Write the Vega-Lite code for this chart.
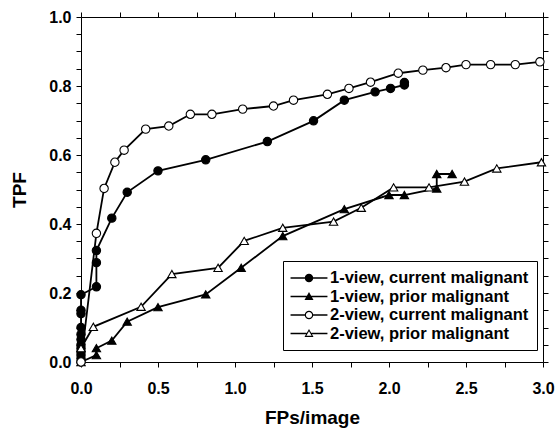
{
  "$schema": "https://vega.github.io/schema/vega-lite/v6.json",
  "autosize": {"type": "none"},
  "padding": {"left": 81, "top": 17, "right": 15, "bottom": 69},
  "width": 462,
  "height": 345,
  "background": "white",
  "config": {
    "view": {"stroke": null},
    "font": "Liberation Sans",
    "axis": {
      "domainColor": "black",
      "domainWidth": 1,
      "tickColor": "black",
      "tickWidth": 1,
      "tickSize": 5,
      "grid": false,
      "labelColor": "black",
      "labelFont": "Liberation Sans",
      "labelFontWeight": "bold",
      "labelFontSize": 16,
      "labelFlush": false,
      "labelOverlap": false,
      "titleColor": "black",
      "titleFont": "Liberation Sans",
      "titleFontWeight": "bold",
      "titleFontSize": 19
    }
  },
  "data": {
    "values": [
      {"series": "1-view, current malignant", "i": 0, "x": 0.0, "y": 0.0},
      {"series": "1-view, current malignant", "i": 1, "x": 0.0, "y": 0.01},
      {"series": "1-view, current malignant", "i": 2, "x": 0.0, "y": 0.02},
      {"series": "1-view, current malignant", "i": 3, "x": 0.0, "y": 0.03},
      {"series": "1-view, current malignant", "i": 4, "x": 0.0, "y": 0.04},
      {"series": "1-view, current malignant", "i": 5, "x": 0.0, "y": 0.05},
      {"series": "1-view, current malignant", "i": 6, "x": 0.0, "y": 0.065},
      {"series": "1-view, current malignant", "i": 7, "x": 0.0, "y": 0.08},
      {"series": "1-view, current malignant", "i": 8, "x": 0.0, "y": 0.1},
      {"series": "1-view, current malignant", "i": 9, "x": 0.0, "y": 0.14},
      {"series": "1-view, current malignant", "i": 10, "x": 0.0, "y": 0.15},
      {"series": "1-view, current malignant", "i": 11, "x": 0.0, "y": 0.195},
      {"series": "1-view, current malignant", "i": 12, "x": 0.1, "y": 0.218},
      {"series": "1-view, current malignant", "i": 13, "x": 0.1, "y": 0.288},
      {"series": "1-view, current malignant", "i": 14, "x": 0.1, "y": 0.323},
      {"series": "1-view, current malignant", "i": 15, "x": 0.2, "y": 0.417},
      {"series": "1-view, current malignant", "i": 16, "x": 0.3, "y": 0.492},
      {"series": "1-view, current malignant", "i": 17, "x": 0.5, "y": 0.554},
      {"series": "1-view, current malignant", "i": 18, "x": 0.81, "y": 0.586},
      {"series": "1-view, current malignant", "i": 19, "x": 1.21, "y": 0.639},
      {"series": "1-view, current malignant", "i": 20, "x": 1.51, "y": 0.699},
      {"series": "1-view, current malignant", "i": 21, "x": 1.71, "y": 0.759},
      {"series": "1-view, current malignant", "i": 22, "x": 1.91, "y": 0.783},
      {"series": "1-view, current malignant", "i": 23, "x": 2.01, "y": 0.793},
      {"series": "1-view, current malignant", "i": 24, "x": 2.1, "y": 0.803},
      {"series": "1-view, current malignant", "i": 25, "x": 2.1, "y": 0.81},

      {"series": "1-view, prior malignant", "i": 0, "x": 0.0, "y": 0.0},
      {"series": "1-view, prior malignant", "i": 1, "x": 0.1, "y": 0.02},
      {"series": "1-view, prior malignant", "i": 2, "x": 0.1, "y": 0.04},
      {"series": "1-view, prior malignant", "i": 3, "x": 0.2, "y": 0.062},
      {"series": "1-view, prior malignant", "i": 4, "x": 0.3, "y": 0.117},
      {"series": "1-view, prior malignant", "i": 5, "x": 0.5, "y": 0.159},
      {"series": "1-view, prior malignant", "i": 6, "x": 0.81, "y": 0.196},
      {"series": "1-view, prior malignant", "i": 7, "x": 1.04, "y": 0.273},
      {"series": "1-view, prior malignant", "i": 8, "x": 1.31, "y": 0.365},
      {"series": "1-view, prior malignant", "i": 9, "x": 1.71, "y": 0.443},
      {"series": "1-view, prior malignant", "i": 10, "x": 2.0, "y": 0.484},
      {"series": "1-view, prior malignant", "i": 11, "x": 2.1, "y": 0.484},
      {"series": "1-view, prior malignant", "i": 12, "x": 2.31, "y": 0.503},
      {"series": "1-view, prior malignant", "i": 13, "x": 2.31, "y": 0.545},
      {"series": "1-view, prior malignant", "i": 14, "x": 2.41, "y": 0.545},

      {"series": "2-view, current malignant", "i": 0, "x": 0.0, "y": 0.0},
      {"series": "2-view, current malignant", "i": 1, "x": 0.1, "y": 0.373},
      {"series": "2-view, current malignant", "i": 2, "x": 0.15, "y": 0.503},
      {"series": "2-view, current malignant", "i": 3, "x": 0.22, "y": 0.579},
      {"series": "2-view, current malignant", "i": 4, "x": 0.28, "y": 0.614},
      {"series": "2-view, current malignant", "i": 5, "x": 0.42, "y": 0.675},
      {"series": "2-view, current malignant", "i": 6, "x": 0.57, "y": 0.684},
      {"series": "2-view, current malignant", "i": 7, "x": 0.71, "y": 0.718},
      {"series": "2-view, current malignant", "i": 8, "x": 0.85, "y": 0.718},
      {"series": "2-view, current malignant", "i": 9, "x": 1.05, "y": 0.733},
      {"series": "2-view, current malignant", "i": 10, "x": 1.25, "y": 0.742},
      {"series": "2-view, current malignant", "i": 11, "x": 1.38, "y": 0.759},
      {"series": "2-view, current malignant", "i": 12, "x": 1.6, "y": 0.776},
      {"series": "2-view, current malignant", "i": 13, "x": 1.74, "y": 0.793},
      {"series": "2-view, current malignant", "i": 14, "x": 1.88, "y": 0.811},
      {"series": "2-view, current malignant", "i": 15, "x": 2.06, "y": 0.837},
      {"series": "2-view, current malignant", "i": 16, "x": 2.22, "y": 0.846},
      {"series": "2-view, current malignant", "i": 17, "x": 2.37, "y": 0.853},
      {"series": "2-view, current malignant", "i": 18, "x": 2.5, "y": 0.862},
      {"series": "2-view, current malignant", "i": 19, "x": 2.66, "y": 0.862},
      {"series": "2-view, current malignant", "i": 20, "x": 2.82, "y": 0.862},
      {"series": "2-view, current malignant", "i": 21, "x": 2.98, "y": 0.87},

      {"series": "2-view, prior malignant", "i": 0, "x": 0.0, "y": 0.04},
      {"series": "2-view, prior malignant", "i": 1, "x": 0.08, "y": 0.102},
      {"series": "2-view, prior malignant", "i": 2, "x": 0.39, "y": 0.16},
      {"series": "2-view, prior malignant", "i": 3, "x": 0.59, "y": 0.255},
      {"series": "2-view, prior malignant", "i": 4, "x": 0.89, "y": 0.273},
      {"series": "2-view, prior malignant", "i": 5, "x": 1.06, "y": 0.351},
      {"series": "2-view, prior malignant", "i": 6, "x": 1.31, "y": 0.389},
      {"series": "2-view, prior malignant", "i": 7, "x": 1.64, "y": 0.407},
      {"series": "2-view, prior malignant", "i": 8, "x": 1.82, "y": 0.447},
      {"series": "2-view, prior malignant", "i": 9, "x": 2.03, "y": 0.506},
      {"series": "2-view, prior malignant", "i": 10, "x": 2.26, "y": 0.506},
      {"series": "2-view, prior malignant", "i": 11, "x": 2.49, "y": 0.523},
      {"series": "2-view, prior malignant", "i": 12, "x": 2.7, "y": 0.561},
      {"series": "2-view, prior malignant", "i": 13, "x": 2.99, "y": 0.579}
    ]
  },
  "layer": [
    {
      "mark": {"type": "line", "color": "black", "strokeWidth": 1.8},
      "encoding": {
        "x": {
          "field": "x", "type": "quantitative",
          "scale": {"domain": [0, 3], "nice": false, "zero": false},
          "axis": {
            "orient": "bottom",
            "title": "FPs/image",
            "values": [0, 0.25, 0.5, 0.75, 1, 1.25, 1.5, 1.75, 2, 2.25, 2.5, 2.75, 3],
            "labelExpr": "datum.value % 0.5 == 0 ? format(datum.value, '.1f') : ''",
            "labelPadding": 13,
            "titlePadding": 12
          }
        },
        "y": {
          "field": "y", "type": "quantitative",
          "scale": {"domain": [0, 1], "nice": false},
          "axis": {
            "orient": "left",
            "title": "TPF",
            "values": [0, 0.05, 0.1, 0.15, 0.2, 0.25, 0.3, 0.35, 0.4, 0.45, 0.5, 0.55, 0.6, 0.65, 0.7, 0.75, 0.8, 0.85, 0.9, 0.95, 1],
            "labelExpr": "abs(datum.value * 5 - round(datum.value * 5)) < 0.001 ? format(datum.value, '.1f') : ''",
            "labelPadding": 5,
            "titlePadding": 19
          }
        },
        "detail": {"field": "series", "type": "nominal"},
        "order": {"field": "i", "type": "quantitative"}
      }
    },
    {
      "mark": {"type": "point", "stroke": "black", "strokeWidth": 1.1, "size": 70, "opacity": 1},
      "encoding": {
        "x": {
          "field": "x", "type": "quantitative",
          "axis": {
            "orient": "top", "title": null, "labels": false,
            "values": [0, 0.25, 0.5, 0.75, 1, 1.25, 1.5, 1.75, 2, 2.25, 2.5, 2.75, 3]
          }
        },
        "y": {
          "field": "y", "type": "quantitative",
          "axis": {
            "orient": "right", "title": null, "labels": false,
            "values": [0, 0.05, 0.1, 0.15, 0.2, 0.25, 0.3, 0.35, 0.4, 0.45, 0.5, 0.55, 0.6, 0.65, 0.7, 0.75, 0.8, 0.85, 0.9, 0.95, 1]
          }
        },
        "shape": {
          "field": "series", "type": "nominal",
          "scale": {
            "domain": ["1-view, current malignant", "1-view, prior malignant", "2-view, current malignant", "2-view, prior malignant"],
            "range": ["circle", "triangle-up", "circle", "triangle-up"]
          },
          "legend": null
        },
        "fill": {
          "field": "series", "type": "nominal",
          "scale": {
            "domain": ["1-view, current malignant", "1-view, prior malignant", "2-view, current malignant", "2-view, prior malignant"],
            "range": ["black", "black", "white", "white"]
          },
          "legend": null
        }
      }
    },
    {
      "transform": [{"filter": "false"}],
      "mark": {"type": "point", "filled": true, "color": "black", "opacity": 1},
      "encoding": {
        "shape": {
          "field": "series", "type": "nominal",
          "scale": {
            "domain": ["1-view, current malignant", "1-view, prior malignant", "2-view, current malignant", "2-view, prior malignant"],
            "range": [
              "M-2.05,-0.09L-0.4,-0.09L-0.4,0.09L-2.05,0.09ZM0.4,-0.09L2.05,-0.09L2.05,0.09L0.4,0.09ZM0.47,0A0.47,0.47,0,1,1,-0.47,0A0.47,0.47,0,1,1,0.47,0Z",
              "M-2.05,-0.09L2.05,-0.09L2.05,0.09L-2.05,0.09ZM0,-0.5L0.5,0.38L-0.5,0.38Z",
              "M-2.05,-0.09L-0.44,-0.09L-0.44,0.09L-2.05,0.09ZM0.44,-0.09L2.05,-0.09L2.05,0.09L0.44,0.09ZM0.47,0A0.47,0.47,0,1,1,-0.47,0A0.47,0.47,0,1,1,0.47,0ZM0.34,0A0.34,0.34,0,1,0,-0.34,0A0.34,0.34,0,1,0,0.34,0Z",
              "M-2.05,-0.09L-0.26,-0.09L-0.26,0.09L-2.05,0.09ZM0.26,-0.09L2.05,-0.09L2.05,0.09L0.26,0.09ZM0,-0.5L0.5,0.38L-0.5,0.38ZM0,-0.257L-0.294,0.26L0.294,0.26Z"
            ]
          },
          "legend": {
            "title": null,
            "orient": "none",
            "legendX": 202,
            "legendY": 244,
            "strokeColor": "black",
            "fillColor": "white",
            "padding": 8,
            "symbolSize": 324,
            "symbolOffset": 9,
            "labelOffset": 12,
            "rowPadding": 0.5,
            "symbolFillColor": "black",
            "symbolStrokeWidth": 0,
            "labelFont": "Liberation Sans",
            "labelFontWeight": "bold",
            "labelFontSize": 16.5,
            "labelColor": "black",
            "labelLimit": 400,
            "encode": {
              "symbols": {
                "fill": {"value": "black"},
                "strokeWidth": {"value": 0},
                "opacity": {"value": 1}
              }
            }
          }
        }
      }
    }
  ],
  "resolve": {
    "scale": {"shape": "independent"},
    "axis": {"x": "independent", "y": "independent"}
  }
}
